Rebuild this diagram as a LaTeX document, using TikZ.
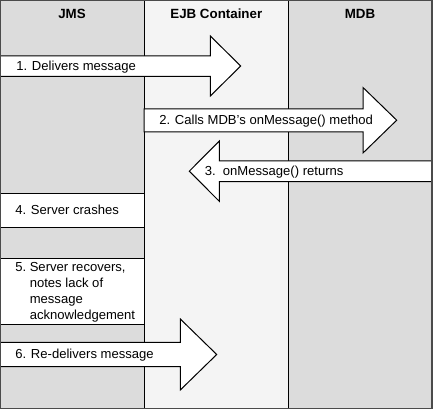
\documentclass[tikz,border=0pt]{standalone}
\usepackage{fontspec}
\setmainfont{Liberation Sans}
\definecolor{lanegray}{RGB}{220,220,220}
\definecolor{midgray}{RGB}{244,244,244}
\definecolor{framegray}{RGB}{75,75,75}
\begin{document}
\begin{tikzpicture}[x=0.75pt,y=-0.75pt,
  divider/.style={draw=black, line width=0.75pt},
  notebox/.style={draw=black, fill=white, line width=0.75pt},
  bigarrow/.style={draw=black, fill=white, line width=0.75pt, line join=miter},
  lbl/.style={font=\fontsize{9.8}{11.9}\selectfont, inner sep=0pt, anchor=base west},
  hdr/.style={font=\fontsize{10}{12}\selectfont\bfseries, inner sep=0pt, anchor=base}]
\useasboundingbox (0,0) rectangle (433,409);
% lanes
\fill[lanegray] (0,0) rectangle (144,409);
\fill[midgray] (144,0) rectangle (288.7,409);
\fill[lanegray] (288.7,0) rectangle (432,409);
\draw[divider] (144,0) -- (144,409);
\draw[divider] (288.7,0) -- (288.7,409);
% headers
\node[hdr] (jms) at (72,18.3) {JMS};
\node[hdr] (ejb) at (216.3,18.3) {EJB Container};
\node[hdr] (mdb) at (360,18.3) {MDB};
% note boxes in JMS lane
\draw[notebox] (0,193.3) rectangle (144,227.7);
\draw[notebox] (0,258.3) rectangle (144,324.3);
% arrow 1
\draw[bigarrow] (0,56) -- (210.3,56) -- (210.3,36) -- (240.7,66) -- (210.3,96) -- (210.3,76.5) -- (0,76.5) -- cycle;
% arrow 2
\draw[bigarrow] (144,109) -- (363,109) -- (363,87.5) -- (396.7,120.2) -- (363,153) -- (363,131.8) -- (144,131.8) -- cycle;
% arrow 3
\draw[bigarrow] (432,161) -- (219.3,161) -- (219.3,141) -- (189.3,171.2) -- (219.3,201.3) -- (219.3,181.7) -- (432,181.7) -- cycle;
% arrow 6
\draw[bigarrow] (0,342.3) -- (180.3,342.3) -- (180.3,319) -- (216.7,354.5) -- (180.3,390) -- (180.3,366.7) -- (0,366.7) -- cycle;
% labels
\node[lbl] (t1) at (16,70.7) {1. Delivers message};
\node[lbl] (t2) at (159,124.6) {2. Calls MDB’s onMessage() method};
\node[lbl] (t3) at (204.5,175.5) {3.\ \ onMessage() returns};
\node[lbl] (t4) at (15,214.5) {4. Server crashes};
\node[lbl] (t5) at (15,271.5) {\begin{tabular}[t]{@{}l@{}l@{}}\mbox{5.\ } & Server recovers,\\ & notes lack of\\ & message\\ & acknowledgement\end{tabular}};
\node[lbl] (t6) at (15,358.6) {6. Re-delivers message};
% frame
\draw[framegray, line width=1.1pt] (0.5,0.5) rectangle (431.8,408.3);
\end{tikzpicture}
\end{document}
